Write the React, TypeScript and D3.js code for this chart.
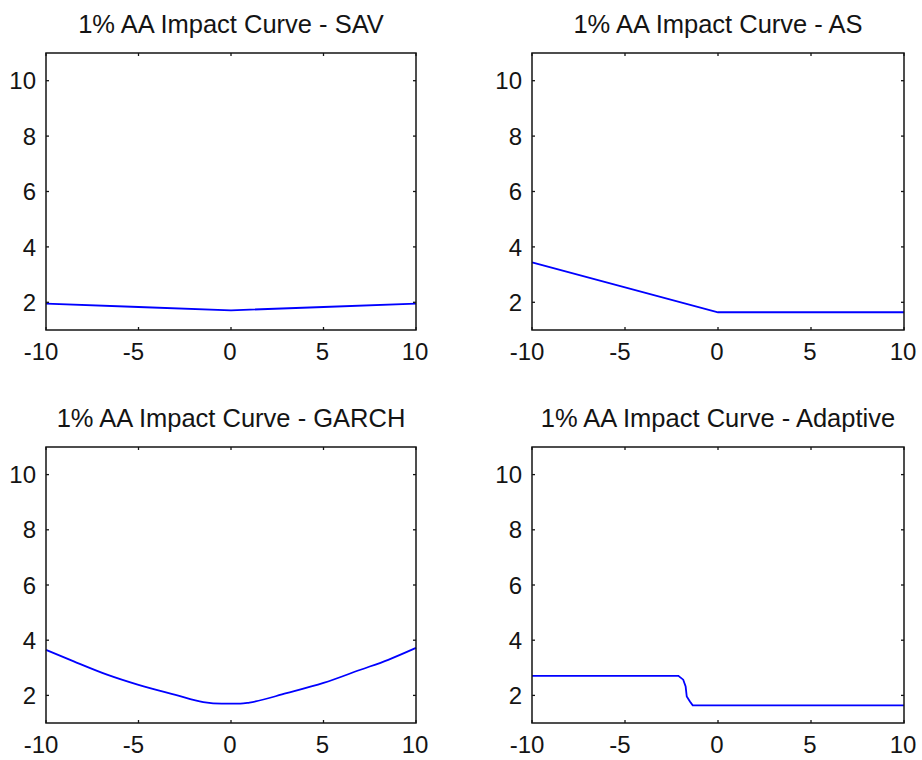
import React from "react";
import * as d3 from "d3";

const panelTitles = [
  "1% AA Impact Curve - SAV",
  "1% AA Impact Curve - AS",
  "1% AA Impact Curve - GARCH",
  "1% AA Impact Curve - Adaptive",
];

const xTicks = [-10, -5, 0, 5, 10];
const yTicks = [2, 4, 6, 8, 10];

const savX = [-10, -5, 0, 5, 10];
const savY = [1.95, 1.83, 1.71, 1.83, 1.95];

const asX = [-10, 0, 10];
const asY = [3.44, 1.64, 1.64];

const garchX = [-10, -8.5, -6.7, -5, -3, -1.5, -0.5, 0, 0.5, 1, 3, 5, 7, 8.5, 10];
const garchY = [3.65, 3.23, 2.75, 2.38, 2.02, 1.76, 1.70, 1.70, 1.70, 1.74, 2.08, 2.45, 2.93, 3.29, 3.72];

const adaptX = [-10, -2.13, -1.87, -1.74, -1.68, -1.51, -1.36, 10];
const adaptY = [2.71, 2.71, 2.57, 2.32, 1.96, 1.78, 1.64, 1.64];

const seriesX = [savX, asX, garchX, adaptX];
const seriesY = [savY, asY, garchY, adaptY];

const boxes = [
  { x0: 46, x1: 416, y0: 53, y1: 330 },
  { x0: 532, x1: 904, y0: 53, y1: 330 },
  { x0: 46, x1: 416, y0: 447, y1: 723 },
  { x0: 532, x1: 904, y0: 447, y1: 723 },
];

const FONT = "'Liberation Sans', Arial, Helvetica, sans-serif";
const TXT = "#141414";

function Panel({ idx }: { idx: number }) {
  const b = boxes[idx];
  const x = d3.scaleLinear().domain([-10, 10]).range([b.x0, b.x1]);
  const y = d3.scaleLinear().domain([1, 11]).range([b.y1, b.y0]);
  const xs = seriesX[idx];
  const ys = seriesY[idx];
  const pts = xs.map((v, i) => [v, ys[i]] as [number, number]);
  const curve = idx === 2 ? d3.curveMonotoneX : d3.curveLinear;
  const line = d3
    .line<[number, number]>()
    .x((d) => x(d[0]))
    .y((d) => y(d[1]))
    .curve(curve);
  const tl = 3;
  return (
    <g>
      <text
        x={(b.x0 + b.x1) / 2}
        y={b.y0 - 20.5}
        textAnchor="middle"
        fontFamily={FONT}
        fontSize={25.5}
        fill={TXT}
      >
        {panelTitles[idx]}
      </text>
      <path d={line(pts) || ""} fill="none" stroke="#0000ff" strokeWidth={1.8} />
      {xTicks.map((t) => (
        <g key={"x" + t}>
          <line x1={x(t)} x2={x(t)} y1={b.y1} y2={b.y1 - tl} stroke={TXT} strokeWidth={1.3} />
          <line x1={x(t)} x2={x(t)} y1={b.y0} y2={b.y0 + tl} stroke={TXT} strokeWidth={1.3} />
          <text
            x={x(t) + (t < 0 ? -5 : -1)}
            y={b.y1 + 30}
            textAnchor="middle"
            fontFamily={FONT}
            fontSize={24}
            fill={TXT}
          >
            {String(t)}
          </text>
        </g>
      ))}
      {yTicks.map((t) => (
        <g key={"y" + t}>
          <line x1={b.x0} x2={b.x0 + tl} y1={y(t)} y2={y(t)} stroke={TXT} strokeWidth={1.3} />
          <line x1={b.x1} x2={b.x1 - tl} y1={y(t)} y2={y(t)} stroke={TXT} strokeWidth={1.3} />
          <text
            x={b.x0 - 10}
            y={y(t)}
            dy="0.36em"
            textAnchor="end"
            fontFamily={FONT}
            fontSize={24}
            fill={TXT}
          >
            {String(t)}
          </text>
        </g>
      ))}
      <rect
        x={b.x0}
        y={b.y0}
        width={b.x1 - b.x0}
        height={b.y1 - b.y0}
        fill="none"
        stroke={TXT}
        strokeWidth={1.5}
      />
    </g>
  );
}

export default function App() {
  return (
    <svg
      width={922}
      height={760}
      style={{ position: "absolute", left: 0, top: 0, background: "#fff" }}
    >
      <rect x={0} y={0} width={922} height={760} fill="#fff" />
      {[0, 1, 2, 3].map((i) => (
        <Panel key={i} idx={i} />
      ))}
    </svg>
  );
}
